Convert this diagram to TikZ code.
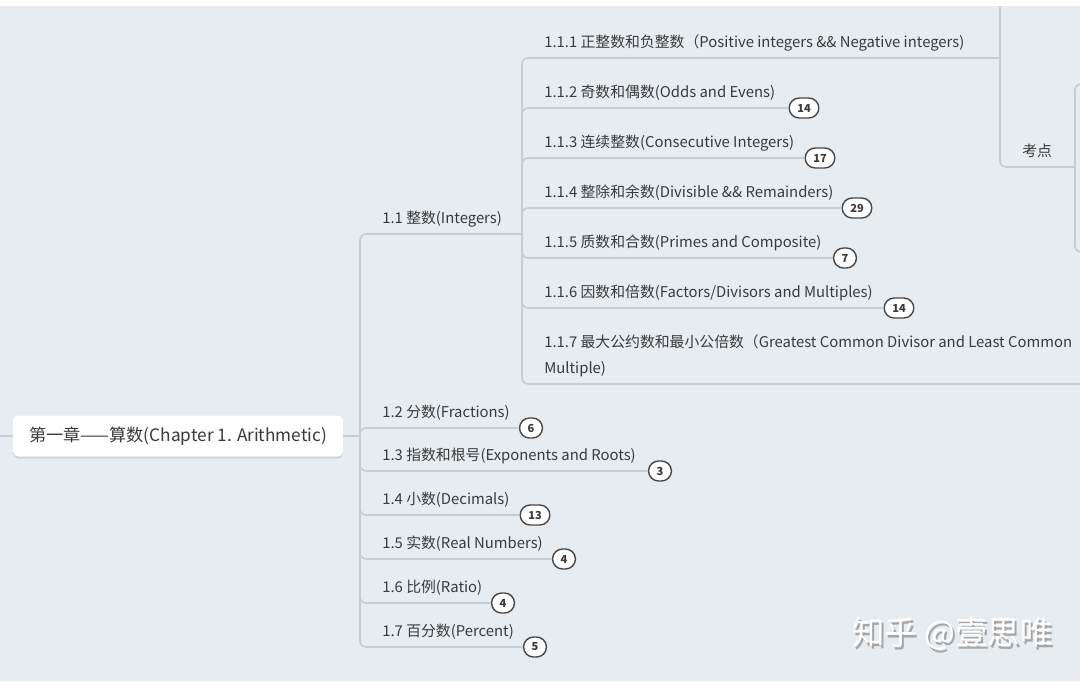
\documentclass[tikz,border=0pt]{standalone}
\usepackage{fontspec}
\setmainfont{Noto Sans CJK SC}
\usepackage{xcolor}
\usetikzlibrary{positioning,shadows}
\definecolor{paper}{RGB}{231,236,240}
\definecolor{wire}{RGB}{200,205,209}
\definecolor{ink}{RGB}{58,58,58}
\definecolor{ring}{RGB}{72,72,72}
\tikzset{
	x=0.02cm, y=-0.02cm, % one unit = one pixel of the screenshot
	branch/.style={draw=wire, line width=0.9pt, rounded corners=3.5pt},
	topic/.style={fill=white, rounded corners=3pt, minimum width=6.6cm, minimum height=0.82cm,
		text=ink, font=\fontsize{9.8}{11}\selectfont,
		drop shadow={opacity=0.22, shadow xshift=0pt, shadow yshift=-1.2pt}},
	item/.style={anchor=base west, inner sep=0pt, text=ink, font=\fontsize{8.45}{14.7}\selectfont},
	badge/.style={draw=ring, line width=0.8pt, fill=white, rounded corners=0.2cm,
		minimum width=0.42cm, minimum height=0.4cm, inner xsep=4.6pt, inner ysep=0pt,
		text=ink, font=\fontsize{6.3}{7}\bfseries},
	stamp/.style={inner sep=0pt, font=\fontsize{18.5}{20}\selectfont},
}
\begin{document}
\begin{tikzpicture}
\useasboundingbox (0,0) rectangle (1080,681);
\clip (0,0) rectangle (1080,681);
\fill[paper] (0,0) rectangle (1080,681);

% root
\node[topic] (Root) at (178,436) {第一章——算数(Chapter 1. Arithmetic)};

% first level
\node[item] (Int) at (382,223) {1.1 整数(Integers)};
\node[item] (Frac) at (382,417) {1.2 分数(Fractions)};
\node[item] (Expo) at (382,460) {1.3 指数和根号(Exponents and Roots)};
\node[item] (Deci) at (382,504) {1.4 小数(Decimals)};
\node[item] (Real) at (382,548) {1.5 实数(Real Numbers)};
\node[item] (Ratio) at (382,592) {1.6 比例(Ratio)};
\node[item] (Perc) at (382,636) {1.7 百分数(Percent)};

\node[badge] (FracN) at (531,428) {6};
\node[badge] (ExpoN) at (660,471) {3};
\node[badge] (DeciN) at (535,515) {13};
\node[badge] (RealN) at (564,559) {4};
\node[badge] (RatioN) at (503,603) {4};
\node[badge] (PercN) at (535,647) {5};

% second level, under 1.1
\node[item] (PosNeg) at (544,47) {1.1.1 正整数和负整数（Positive integers \&\& Negative integers)};
\node[item] (OddEven) at (544,97) {1.1.2 奇数和偶数(Odds and Evens)};
\node[item] (Consec) at (544,147) {1.1.3 连续整数(Consecutive Integers)};
\node[item] (Divis) at (544,197) {1.1.4 整除和余数(Divisible \&\& Remainders)};
\node[item] (Prime) at (544,247) {1.1.5 质数和合数(Primes and Composite)};
\node[item] (Factor) at (544,297) {1.1.6 因数和倍数(Factors/Divisors and Multiples)};
\node[item, align=left] (Gcd) at (544,373) {1.1.7 最大公约数和最小公倍数（Greatest Common Divisor and Least Common\\Multiple)};
\node[item] (Kaodian) at (1022,156) {考点};

\node[badge] (OddN) at (804,108) {14};
\node[badge] (ConsecN) at (820,158) {17};
\node[badge] (DivisN) at (857,208) {29};
\node[badge] (PrimeN) at (845,258) {7};
\node[badge] (FactorN) at (899,308) {14};

\coordinate (LeftEnd) at (-10,436);
\coordinate (Hub) at (360,436);
\coordinate (IntHub) at (522,234);
\coordinate (PosHub) at (1000,58);
\coordinate (KaoHub) at (1075,167);
\coordinate (TopEnd) at (1000,-10);
\coordinate (KaoUp) at (1100,84);
\coordinate (KaoDown) at (1100,252);
\coordinate (GcdEnd) at (1100,384);

\draw[branch] (LeftEnd) -- (Root);
\draw[branch] (Root) -- (Hub);
\draw[branch] (Hub) |- (IntHub);
\foreach \b in {FracN,ExpoN,DeciN,RealN,RatioN,PercN}
	\draw[branch] (Hub) |- (\b);

\draw[branch] (IntHub) |- (PosHub);
\foreach \b in {OddN,ConsecN,DivisN,PrimeN,FactorN}
	\draw[branch] (IntHub) |- (\b);
\draw[branch] (IntHub) |- (GcdEnd);

\draw[branch] (PosHub) -- (TopEnd);
\draw[branch] (PosHub) |- (KaoHub);
\draw[branch] (KaoHub) |- (KaoUp);
\draw[branch] (KaoHub) |- (KaoDown);

% watermark
\node[stamp, text=black!35, anchor=base west] (MarkShade) at (854,647) {知乎 @壹思唯};
\node[stamp, text=white, above left=1.2pt and 1.2pt of MarkShade.south east, anchor=south east] (Mark) {知乎 @壹思唯};

\fill[white] (0,0) rectangle (1080,6);
\end{tikzpicture}
\end{document}
